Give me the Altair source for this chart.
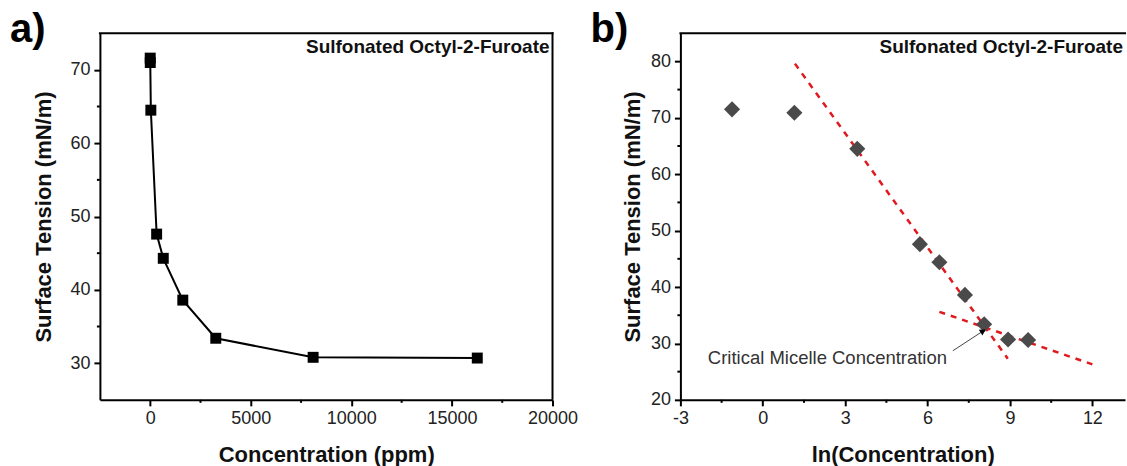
import altair as alt
import pandas as pd

# ---------------- data ----------------
# panel a) surface tension vs concentration (ppm)
conc_ppm = [0.33, 3.2, 32, 320, 650, 1620, 3260, 8100, 16260]
tension_a = [71.6, 71.0, 64.5, 47.6, 44.3, 38.6, 33.4, 30.8, 30.7]

# panel b) surface tension vs ln(concentration)
ln_conc = [-1.12, 1.15, 3.44, 5.72, 6.43, 7.36, 8.06, 8.93, 9.66]
tension_b = [71.5, 70.9, 64.5, 47.6, 44.4, 38.6, 33.4, 30.7, 30.6]

# red dashed fit lines in b (end points)
fit_seg = ["steep", "steep", "flat", "flat"]
fit_x = [1.17, 8.92, 6.43, 12.0]
fit_y = [79.6, 27.3, 35.6, 26.3]

# CMC annotation in b
cmc_label = ["Critical Micelle Concentration"]
cmc_label_x = [-2.0]
cmc_label_y = [26.4]
arrow_x = [6.92, 8.02]
arrow_y = [28.7, 32.2]

# ticks
xa_major = [0, 5000, 10000, 15000, 20000]
xa_minor = [2500, 7500, 12500, 17500]
ya_major = [30, 40, 50, 60, 70]
ya_minor = [35, 45, 55, 65]
xb_major = [-3, 0, 3, 6, 9, 12]
xb_minor = [-1.5, 1.5, 4.5, 7.5, 10.5]
yb_major = [20, 30, 40, 50, 60, 70, 80]
yb_minor = [25, 35, 45, 55, 65, 75]

compound = ["Sulfonated Octyl-2-Furoate"]

# ---------------- styling ----------------
FONT = "Liberation Sans"
W_A, W_B, H = 453, 445, 367

xa_scale = alt.Scale(domain=[-2500, 20000], nice=False, zero=False)
ya_scale = alt.Scale(domain=[25, 75], nice=False, zero=False)
xb_scale = alt.Scale(domain=[-3, -3 + W_B / 27.49], nice=False, zero=False)
yb_scale = alt.Scale(domain=[20, 85], nice=False, zero=False)


def axis(values, title, title_pad, orient):
    return alt.Axis(
        values=values, title=title, orient=orient, grid=False,
        labelExpr="datum.value + ''", labelFlush=False, labelOverlap=False,
        tickSize=6, tickWidth=2, tickColor="black",
        domainColor="black", domainWidth=2,
        labelFont=FONT, labelFontSize=18, labelColor="#222222", labelPadding=4,
        titleFont=FONT, titleFontSize=22, titleFontWeight="bold",
        titleColor="#111111", titlePadding=title_pad,
    )


AX_XA = axis(xa_major, "Concentration (ppm)", 17, "bottom")
AX_YA = axis(ya_major, "Surface Tension (mN/m)", 14, "left")
AX_XB = axis(xb_major, "ln(Concentration)", 17, "bottom")
AX_YB = axis(yb_major, "Surface Tension (mN/m)", 6, "left")


def minor_x(vals, scale, ax):
    return alt.Chart(pd.DataFrame({"v": vals})).mark_rule(
        color="black", strokeWidth=2
    ).encode(x=alt.X("v:Q", scale=scale, axis=ax),
             y=alt.value(H), y2=alt.value(H + 3))


def minor_y(vals, scale, ax):
    return alt.Chart(pd.DataFrame({"v": vals})).mark_rule(
        color="black", strokeWidth=2
    ).encode(y=alt.Y("v:Q", scale=scale, axis=ax),
             x=alt.value(0), x2=alt.value(-3))


def frame_top(w):
    return alt.Chart(pd.DataFrame({"d": [0]})).mark_rule(
        color="black", strokeWidth=2
    ).encode(x=alt.value(-1), x2=alt.value(w + 1), y=alt.value(0))


def frame_right(w):
    return alt.Chart(pd.DataFrame({"d": [0]})).mark_rule(
        color="black", strokeWidth=2
    ).encode(x=alt.value(w), y=alt.value(-1), y2=alt.value(H))


def panel_letter(t):
    return alt.Chart(pd.DataFrame({"t": [t]})).mark_text(
        font=FONT, fontSize=40, fontWeight="bold", align="left",
        baseline="alphabetic", color="black"
    ).encode(text="t:N", x=alt.value(-90), y=alt.value(9))


def compound_title(w):
    return alt.Chart(pd.DataFrame({"t": compound})).mark_text(
        font=FONT, fontSize=19, fontWeight="bold", align="right",
        baseline="alphabetic", color="#111111"
    ).encode(text="t:N", x=alt.value(w - 3), y=alt.value(20))


# ---------------- panel a ----------------
df_a = pd.DataFrame({"c": conc_ppm, "t": tension_a})
line_a = alt.Chart(df_a).mark_line(color="black", strokeWidth=2).encode(
    x=alt.X("c:Q", scale=xa_scale, axis=AX_XA),
    y=alt.Y("t:Q", scale=ya_scale, axis=AX_YA),
)
pts_a = alt.Chart(df_a).mark_square(size=120, color="black", opacity=1).encode(
    x=alt.X("c:Q", scale=xa_scale, axis=AX_XA),
    y=alt.Y("t:Q", scale=ya_scale, axis=AX_YA),
)
chart_a = alt.layer(
    line_a, pts_a, frame_top(W_A), frame_right(W_A),
    minor_x(xa_minor, xa_scale, AX_XA), minor_y(ya_minor, ya_scale, AX_YA),
    panel_letter("a)"), compound_title(W_A),
).properties(width=W_A, height=H)

# ---------------- panel b ----------------
df_b = pd.DataFrame({"x": ln_conc, "t": tension_b})
df_fit = pd.DataFrame({"x": fit_x, "y": fit_y, "seg": fit_seg})
fit_b = alt.Chart(df_fit).mark_line(
    color="#e0191e", strokeWidth=2.5, strokeDash=[6, 6]
).encode(
    x=alt.X("x:Q", scale=xb_scale, axis=AX_XB),
    y=alt.Y("y:Q", scale=yb_scale, axis=AX_YB),
    detail="seg:N",
)
pts_b = alt.Chart(df_b).mark_point(
    shape="diamond", filled=True, size=260, color="#4a4a4a", opacity=1
).encode(
    x=alt.X("x:Q", scale=xb_scale, axis=AX_XB),
    y=alt.Y("t:Q", scale=yb_scale, axis=AX_YB),
)
df_arrow = pd.DataFrame({"x": arrow_x, "y": arrow_y})
arrow_line = alt.Chart(df_arrow).mark_line(color="#444444", strokeWidth=1).encode(
    x=alt.X("x:Q", scale=xb_scale, axis=AX_XB),
    y=alt.Y("y:Q", scale=yb_scale, axis=AX_YB),
)
arrow_head = alt.Chart(df_arrow.tail(1)).mark_point(
    shape="triangle-right", filled=True, size=45, angle=327,
    color="black", opacity=1
).encode(
    x=alt.X("x:Q", scale=xb_scale, axis=AX_XB),
    y=alt.Y("y:Q", scale=yb_scale, axis=AX_YB),
)
cmc_text = alt.Chart(pd.DataFrame({
    "t": cmc_label, "x": cmc_label_x, "y": cmc_label_y
})).mark_text(
    font=FONT, fontSize=18.5, align="left", baseline="alphabetic", color="#333333"
).encode(
    text="t:N",
    x=alt.X("x:Q", scale=xb_scale, axis=AX_XB),
    y=alt.Y("y:Q", scale=yb_scale, axis=AX_YB),
)
chart_b = alt.layer(
    fit_b, pts_b, arrow_line, arrow_head, cmc_text, frame_top(W_B),
    minor_x(xb_minor, xb_scale, AX_XB), minor_y(yb_minor, yb_scale, AX_YB),
    panel_letter("b)"), compound_title(W_B + 1),
).properties(width=W_B, height=H)

chart = alt.hconcat(chart_a, chart_b, spacing=128, bounds="flush").properties(
    padding={"left": 10, "top": 10, "right": 0, "bottom": 0},
    background="white",
).configure_view(stroke=None)

chart.save("out.html", embed_options={"renderer": "svg", "actions": False})
